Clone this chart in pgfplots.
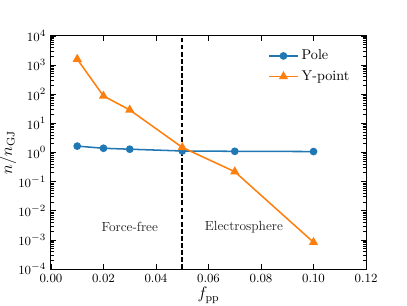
\documentclass[border=0pt]{standalone}
\usepackage{pgfplots}
\pgfplotsset{compat=1.18}
\definecolor{tabblue}{HTML}{1F77B4}
\definecolor{taborange}{HTML}{FF7F0E}
\begin{document}
\begin{tikzpicture}
\useasboundingbox (-36.7pt,-25.9pt) rectangle (256.3pt,193.7pt);
\begin{axis}[
  at={(0,0)}, anchor=south west,
  scale only axis, width=226.8pt, height=167.8pt,
  ymode=log,
  xmin=0, xmax=0.12, ymin=1e-4, ymax=1e4,
  xtick={0,0.02,0.04,0.06,0.08,0.1,0.12},
  ytick={1e-4,1e-3,1e-2,1e-1,1,1e1,1e2,1e3,1e4},
  xticklabel style={/pgf/number format/.cd, fixed, fixed zerofill, precision=2},
  scaled x ticks=false,
  tick align=inside,
  tick style={black, line width=0.6pt},
  major tick length=3.5pt, minor tick length=2pt,
  ticklabel style={font=\fontsize{9.3}{11}\selectfont},
  axis line style={line width=0.7pt},
  xlabel={$f_{\mathrm{pp}}$},
  ylabel={$n/n_{\mathrm{GJ}}$},
  label style={font=\fontsize{11.5}{13}\selectfont},
  xlabel style={yshift=3pt},
  ylabel style={yshift=-5.5pt},
  legend style={draw=none, fill=none, at={(0.97,0.965)}, anchor=north east, font=\fontsize{10.2}{12}\selectfont, row sep=2.3pt},
  legend cell align=left,
  legend image code/.code={
    \draw[#1, mark=none, line width=1.2pt] (0cm,0cm) -- (0.74cm,0cm);
    \draw[#1, only marks] plot coordinates {(0.37cm,0cm)};
  },
]
\addplot[tabblue, line width=1.1pt, mark=*, mark size=2.2pt] coordinates {
  (0.01,1.66) (0.02,1.4) (0.03,1.3) (0.05,1.13) (0.07,1.1) (0.10,1.08)
};
\addlegendentry{Pole}
\addplot[taborange, line width=1.1pt, mark=triangle*, mark size=2.8pt] coordinates {
  (0.01,1600) (0.02,87) (0.03,29) (0.05,1.5) (0.07,0.22) (0.10,8.3e-4)
};
\addlegendentry{Y-point}
\addplot[black, line width=1.1pt, dash pattern=on 3.5pt off 1.6pt, forget plot] coordinates {(0.05,1e-4) (0.05,1e4)};
\node[font=\fontsize{9.5}{11}\selectfont, text=black!85] at (axis cs:0.030,2.8e-3) {Force-free};
\node[font=\fontsize{9.5}{11}\selectfont, text=black!85] at (axis cs:0.0735,2.8e-3) {Electrosphere};
\end{axis}
\end{tikzpicture}
\end{document}
